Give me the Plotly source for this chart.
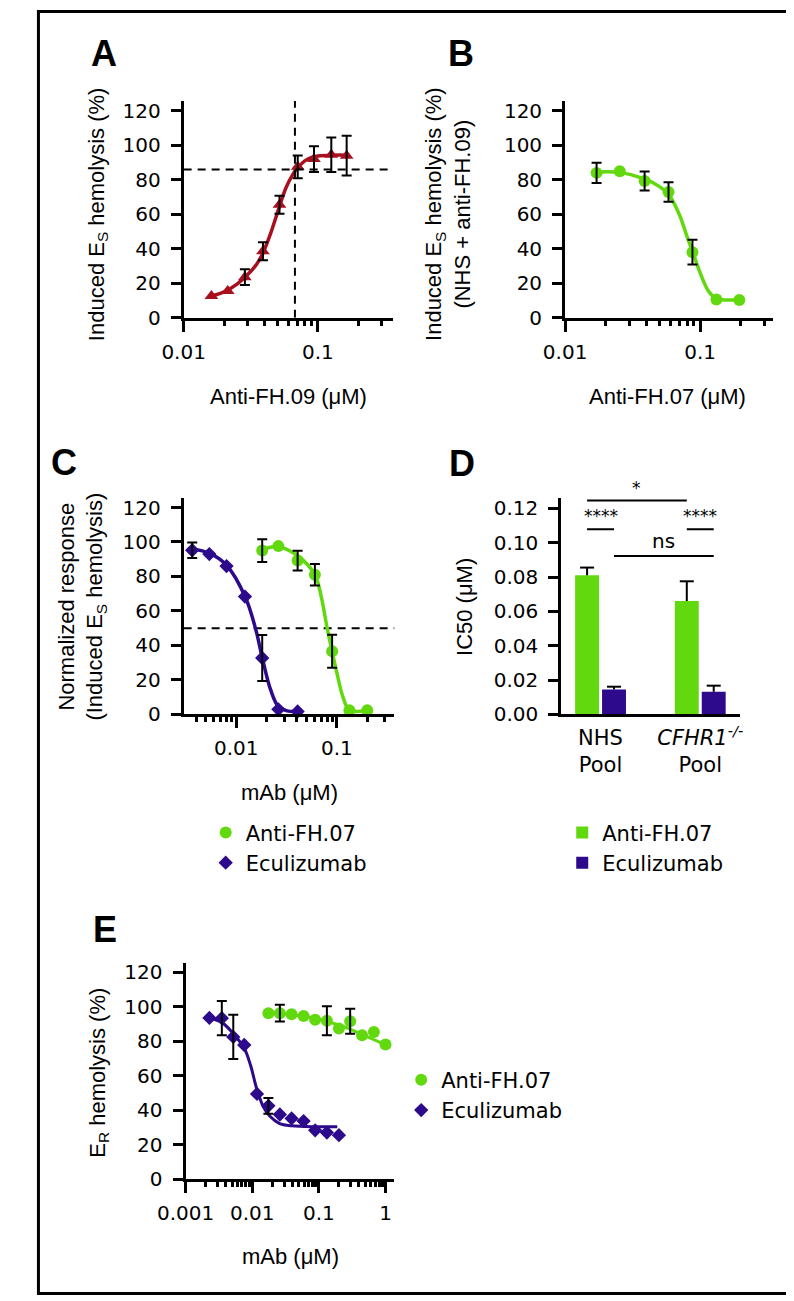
import math
import plotly.graph_objects as go

W, H = 794, 1301

GREEN = "#62d90f"
PURPLE = "#2d0a8c"
RED = "#a8101e"

# ---- Panel A: anti-FH.09 titration (induced Es hemolysis, %)
a_conc = [0.0161, 0.0213, 0.0286, 0.039, 0.0518, 0.0708, 0.0936, 0.126, 0.164]
a_lysis = [12.5, 15.5, 23.5, 38.5, 65.5, 87.5, 92, 94.5, 94]
a_sd = [0, 0, 4.6, 5.2, 5.2, 6.6, 7.5, 10, 11.5]
a_fit_x = [0.0161, 0.02, 0.025, 0.03, 0.035, 0.039, 0.045, 0.052, 0.058, 0.065, 0.0708, 0.08, 0.09, 0.1, 0.13, 0.164]
a_fit_y = [12.5, 15, 19.5, 25, 31, 37.5, 50, 65, 75.5, 83, 87, 91, 93, 93.8, 94.3, 94.3]
a_ref_conc = 0.0675
a_ref_lysis = 86

# ---- Panel B: anti-FH.07 in NHS + anti-FH.09
b_conc = [0.0171, 0.0254, 0.0388, 0.0583, 0.0877, 0.132, 0.195]
b_lysis = [84, 85, 79.3, 72.9, 38, 10.5, 10.3]
b_sd = [5.9, 0, 5.5, 5.7, 7.2, 0, 0]
b_fit_x = [0.0171, 0.0254, 0.0388, 0.05, 0.0583, 0.07, 0.08, 0.0877, 0.1, 0.115, 0.132, 0.15, 0.195]
b_fit_y = [84.5, 84.3, 80.5, 76, 71.5, 60, 47, 38.5, 26, 15.5, 11, 10.3, 10.3]

# ---- Panel C: normalized response
c_ecu_conc = [0.00365, 0.0054, 0.008, 0.0122, 0.0181, 0.0262, 0.0407]
c_ecu_resp = [95.2, 93, 86, 68.3, 32.7, 2.9, 1.7]
c_ecu_sd = [4.5, 0, 0, 0, 13.4, 0, 0]
c_ecu_fit_x = [0.00365, 0.0054, 0.008, 0.0122, 0.0155, 0.0181, 0.022, 0.0262, 0.032, 0.0407]
c_ecu_fit_y = [96, 93.5, 86.5, 68.5, 50, 33, 14, 4.5, 2, 1.7]
c_fh_conc = [0.0181, 0.0262, 0.0407, 0.0604, 0.0896, 0.133, 0.2]
c_fh_resp = [95, 97.6, 89.2, 81, 36.6, 2.3, 2.3]
c_fh_sd = [6.6, 0, 5.7, 6.2, 9.6, 0, 0]
c_fh_fit_x = [0.0181, 0.0262, 0.0407, 0.0604, 0.07, 0.08, 0.0896, 0.1, 0.115, 0.133, 0.2]
c_fh_fit_y = [95.5, 97.3, 92, 81, 68, 50, 36.6, 24, 10, 2.5, 2.3]
c_half = 50

# ---- Panel D: IC50 per serum pool
d_pools = ["NHS<br>Pool", "<i>CFHR1<sup>-/-</sup></i><br>Pool"]
d_fh07 = [0.081, 0.066]
d_fh07_sd = [0.0045, 0.0115]
d_ecu = [0.0144, 0.0132]
d_ecu_sd = [0.0017, 0.0035]
# (series, pool, series, pool, label, bracket level)
d_sig = [
    ("fh07", 0, "fh07", 1, "*", 0.1245),
    ("fh07", 0, "ecu", 0, "****", 0.1078),
    ("fh07", 1, "ecu", 1, "****", 0.1078),
    ("ecu", 0, "ecu", 1, "ns", 0.0922),
]

# ---- Panel E: Er hemolysis
e_ecu_conc = [0.00228, 0.0035, 0.0052, 0.0076, 0.0118, 0.0175, 0.026, 0.039, 0.059, 0.088, 0.132, 0.2]
e_ecu_lysis = [93.6, 93.5, 82.6, 77.9, 49.5, 42.6, 37.6, 35.3, 33.8, 28.4, 27.1, 25.6]
e_ecu_sd = [0, 9.9, 12.8, 0, 0, 4.6, 0, 0, 0, 0, 0, 0]
e_ecu_fit_x = [0.00228, 0.00353, 0.00518, 0.0076, 0.00946, 0.0118, 0.0147, 0.0183, 0.0254, 0.0394, 0.0946, 0.189]
e_ecu_fit_y = [93.6, 90.9, 84.6, 76, 66, 52, 42, 36.7, 32.5, 31, 30.5, 30.5]
e_fh_conc = [0.0175, 0.026, 0.039, 0.059, 0.088, 0.132, 0.2, 0.295, 0.445, 0.67, 1.0]
e_fh_lysis = [96.4, 96.4, 95.8, 94.8, 92.6, 92, 87.5, 91.7, 83.6, 85.4, 78.2]
e_fh_sd = [0, 4.8, 0, 0, 0, 8.4, 0, 7.2, 0, 0, 0]
e_fh_fit_x = [0.0175, 0.04, 0.09, 0.2, 0.3, 0.445, 0.67, 1.0]
e_fh_fit_y = [96.8, 95.5, 93.3, 89.5, 87, 84, 81, 78]

y_ticks = [0, 20, 40, 60, 80, 100, 120]
d_ticks = [0, 0.02, 0.04, 0.06, 0.08, 0.10, 0.12]


def PX(v):
    return v / W


def PY(v):
    return 1 - v / H


TICK_FONT = dict(family="DejaVu Sans", size=20, color="black")
LEG_FONT = dict(family="DejaVu Sans", size=21, color="black")
TITLE_FONT = dict(family="Liberation Sans, Arial", size=22, color="black")
LETTER_FONT = dict(family="Liberation Sans, Arial", size=36, color="black", weight="bold")

fig = go.Figure()


def curve(x, y, color, ax, width=3.5):
    fig.add_trace(go.Scatter(x=x, y=y, mode="lines", line=dict(color=color, width=width, shape="spline"),
                             showlegend=False, xaxis="x" + ax, yaxis="y" + ax, hoverinfo="skip"))


def points(x, y, color, symbol, size, ax, name=None, legend=None):
    fig.add_trace(go.Scatter(x=x, y=y, mode="markers", name=name,
                             marker=dict(color=color, symbol=symbol, size=size, line=dict(width=0)),
                             showlegend=name is not None, legend=legend, cliponaxis=False,
                             xaxis="x" + ax, yaxis="y" + ax))


def errbars(x, y, sd, ax):
    keep = [i for i, s in enumerate(sd) if s > 0]
    fig.add_trace(go.Scatter(x=[x[i] for i in keep], y=[y[i] for i in keep], mode="markers",
                             marker=dict(size=1, opacity=0), showlegend=False, cliponaxis=False,
                             error_y=dict(type="data", array=[sd[i] for i in keep], color="black",
                                          thickness=2, width=5),
                             xaxis="x" + ax, yaxis="y" + ax, hoverinfo="skip"))


def hline(x0, x1, y, ax):
    fig.add_trace(go.Scatter(x=[x0, x1], y=[y, y], mode="lines", showlegend=False, hoverinfo="skip",
                             line=dict(color="black", width=2, dash="8px,6px"),
                             xaxis="x" + ax, yaxis="y" + ax))


# A (axis suffix "")
a_rng = [-2, -0.443]
curve(a_fit_x, a_fit_y, RED, "")
points(a_conc, a_lysis, RED, "triangle-up", 12, "")
errbars(a_conc, a_lysis, a_sd, "")
hline(10 ** a_rng[0], 10 ** a_rng[1], a_ref_lysis, "")
fig.add_trace(go.Scatter(x=[a_ref_conc, a_ref_conc], y=[0, 125.7], mode="lines", showlegend=False,
                         line=dict(color="black", width=2, dash="8px,6px"), hoverinfo="skip"))

# B
b_rng = [-2, -0.46]
curve(b_fit_x, b_fit_y, GREEN, "2")
points(b_conc, b_lysis, GREEN, "circle", 12, "2")
errbars(b_conc, b_lysis, b_sd, "2")

# C
c_rng = [math.log10(0.003), -0.428]
hline(10 ** c_rng[0], 10 ** c_rng[1], c_half, "3")
curve(c_ecu_fit_x, c_ecu_fit_y, PURPLE, "3")
curve(c_fh_fit_x, c_fh_fit_y, GREEN, "3")
points(c_fh_conc, c_fh_resp, GREEN, "circle", 12, "3", "Anti-FH.07", "legend")
points(c_ecu_conc, c_ecu_resp, PURPLE, "diamond", 11, "3", "Eculizumab", "legend")
errbars(c_fh_conc, c_fh_resp, c_fh_sd, "3")
errbars(c_ecu_conc, c_ecu_resp, c_ecu_sd, "3")

# D
d_idx = list(range(len(d_pools)))
bar_pos = {"fh07": [i - 0.135 for i in d_idx], "ecu": [i + 0.135 for i in d_idx]}
for key, vals, sds, color, name in [("fh07", d_fh07, d_fh07_sd, GREEN, "Anti-FH.07"),
                                    ("ecu", d_ecu, d_ecu_sd, PURPLE, "Eculizumab")]:
    fig.add_trace(go.Bar(x=bar_pos[key], y=vals, width=0.24, name=name, legend="legend2",
                         marker=dict(color=color, line=dict(width=0)),
                         error_y=dict(type="data", array=sds, arrayminus=[0] * len(sds), width=0,
                                      thickness=2, color="black"),
                         xaxis="x4", yaxis="y4"))
for key, vals, sds in [("fh07", d_fh07, d_fh07_sd), ("ecu", d_ecu, d_ecu_sd)]:
    fig.add_trace(go.Scatter(x=bar_pos[key], y=[v + s for v, s in zip(vals, sds)], mode="markers",
                             marker=dict(symbol="line-ew", size=10, line=dict(width=2, color="black")),
                             showlegend=False, cliponaxis=False, xaxis="x4", yaxis="y4", hoverinfo="skip"))
for s1, p1, s2, p2, label, level in d_sig:
    xa, xb = bar_pos[s1][p1], bar_pos[s2][p2]
    fig.add_trace(go.Scatter(x=[xa, xb], y=[level, level], mode="lines", showlegend=False,
                             line=dict(color="black", width=2), xaxis="x4", yaxis="y4", hoverinfo="skip"))
    fig.add_annotation(x=(xa + xb) / 2, y=level, xref="x4", yref="y4", text=label, showarrow=False,
                       yanchor="bottom", yshift=1,
                       font=dict(family="DejaVu Sans", size=20 if label == "ns" else 17, color="black"))

# E
e_rng = [-3, 0.135]
curve(e_fh_fit_x, e_fh_fit_y, GREEN, "5", 3)
curve(e_ecu_fit_x, e_ecu_fit_y, PURPLE, "5", 3)
points(e_fh_conc, e_fh_lysis, GREEN, "circle", 12, "5", "Anti-FH.07", "legend3")
points(e_ecu_conc, e_ecu_lysis, PURPLE, "diamond", 11, "5", "Eculizumab", "legend3")
errbars(e_fh_conc, e_fh_lysis, e_fh_sd, "5")
errbars(e_ecu_conc, e_ecu_lysis, e_ecu_sd, "5")


def minor_vals(lo_exp, hi_exp):
    return [m * 10 ** e for e in range(lo_exp, hi_exp) for m in range(2, 10)]


AX = dict(showline=True, linecolor="black", linewidth=3, ticks="outside", tickcolor="black",
          tickwidth=2.5, showgrid=False, zeroline=False, tickfont=TICK_FONT)


def log_x(dom, rng, majors, labels, minors, anchor):
    return dict(AX, type="log", domain=[PX(dom[0]), PX(dom[1])], range=rng, anchor=anchor,
                tickmode="array", tickvals=majors, ticktext=labels, ticklen=11, ticklabelstandoff=3,
                minor=dict(tickmode="array", tickvals=minors, ticks="outside", ticklen=5,
                           tickwidth=2.5, tickcolor="black"))


def lin_y(bottom, top, rng, ticks, anchor, fmt=None):
    d = dict(AX, domain=[PY(bottom), PY(top)], range=rng, anchor=anchor, tickmode="array",
             tickvals=ticks, ticklen=10, ticklabelstandoff=6)
    if fmt:
        d["tickformat"] = fmt
    return d


fig.update_layout(
    width=W, height=H, margin=dict(l=0, r=0, t=0, b=0),
    paper_bgcolor="white", plot_bgcolor="white", hovermode=False, barmode="overlay",
    xaxis=log_x((153, 371), a_rng, [0.01, 0.1], ["0.01", "0.1"], [v for v in minor_vals(-2, 0) if v < 0.36], "y"),
    yaxis=lin_y(311, 92, [0, 125.7], y_ticks, "x"),
    xaxis2=log_x((551, 768), b_rng, [0.01, 0.1], ["0.01", "0.1"], [v for v in minor_vals(-2, 0) if v < 0.35], "y2"),
    yaxis2=lin_y(311, 92, [0, 125.7], y_ticks, "x2"),
    xaxis3=log_x((153, 373), c_rng, [0.01, 0.1], ["0.01", "0.1"], [v for v in minor_vals(-3, 0) if 0.003 < v < 0.37], "y3"),
    yaxis3=lin_y(712, 493, [0, 125.7], y_ticks, "x3"),
    xaxis4=dict(AX, domain=[PX(547), PX(733)], range=[-0.394, 1.394], anchor="y4", ticks="",
                tickmode="array", tickvals=d_idx, ticktext=d_pools, ticklabelstandoff=2,
                tickfont=dict(family="DejaVu Sans", size=21, color="black")),
    yaxis4=lin_y(712, 493.7, [0, 0.1258], d_ticks, "x4", ".2f"),
    xaxis5=log_x((155, 373), e_rng, [0.001, 0.01, 0.1, 1], ["0.001", "0.01", "0.1", "1"],
                 [v for v in minor_vals(-3, 0)], "y5"),
    yaxis5=lin_y(1182, 963, [0, 125.7], y_ticks, "x5"),
    legend=dict(x=PX(176), y=PY(811), xanchor="left", yanchor="top", font=LEG_FONT,
                bgcolor="rgba(0,0,0,0)", itemwidth=30, tracegroupgap=0),
    legend2=dict(x=PX(548), y=PY(811), xanchor="left", yanchor="top", font=LEG_FONT,
                 bgcolor="rgba(0,0,0,0)", itemwidth=30, tracegroupgap=0),
    legend3=dict(x=PX(380), y=PY(1061), xanchor="left", yanchor="top", font=LEG_FONT,
                 bgcolor="rgba(0,0,0,0)", itemwidth=30, tracegroupgap=0),
)

# Outer frame
fig.add_shape(type="rect", xref="paper", yref="paper", x0=PX(1.5), x1=PX(789.5), y0=PY(1297.5), y1=PY(1.5),
              line=dict(color="black", width=3))

# Titles and panel letters
texts = [
    ("A", 70, 44, 0, LETTER_FONT),
    ("B", 442, 44, 0, LETTER_FONT),
    ("C", 28, 457, 0, LETTER_FONT),
    ("D", 443, 458, 0, LETTER_FONT),
    ("E", 71, 929, 0, LETTER_FONT),
    ("Anti-FH.09 (μM)", 262, 391, 0, TITLE_FONT),
    ("Anti-FH.07 (μM)", 658, 391, 0, TITLE_FONT),
    ("mAb (μM)", 263, 791, 0, TITLE_FONT),
    ("mAb (μM)", 264, 1260, 0, TITLE_FONT),
    ("Induced E<sub>S</sub> hemolysis (%)", 63, 206, -90, TITLE_FONT),
    ("Induced E<sub>S</sub> hemolysis (%)<br>(NHS + anti-FH.09)", 429, 206, -90, TITLE_FONT),
    ("Normalized response<br>(Induced E<sub>S</sub> hemolysis)", 46, 603, -90, TITLE_FONT),
    ("IC50 (μM)", 446, 603, -90, TITLE_FONT),
    ("E<sub>R</sub> hemolysis (%)", 65, 1074, -90, TITLE_FONT),
]
for text, x, y, ang, font in texts:
    fig.add_annotation(x=PX(x), y=PY(y), xref="paper", yref="paper", text=text, showarrow=False,
                       textangle=ang, xanchor="center", yanchor="middle", font=font)

fig.write_html("out.html")
